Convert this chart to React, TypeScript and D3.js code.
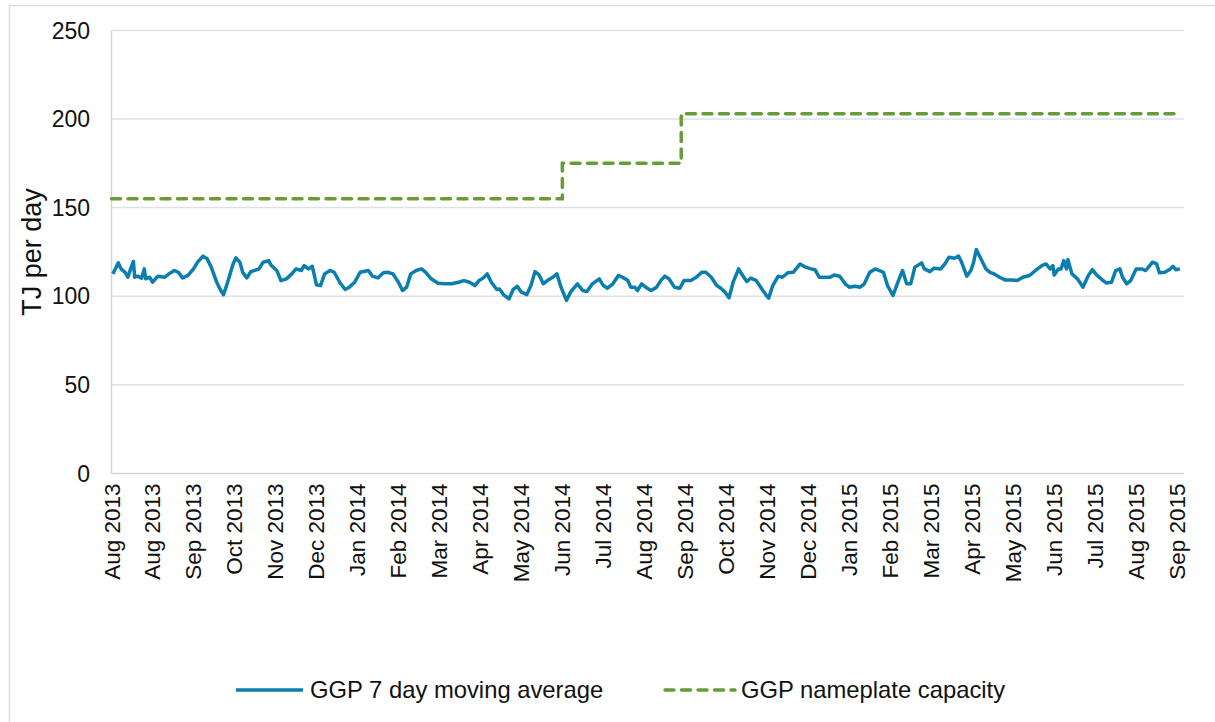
import React from "react";
import * as d3 from "d3";

const W = 1215;
const H = 722;
const START_DATE = new Date(2013, 7, 1);
const END_DAY = 785;
const TICK_STEP_DAYS = 30;
const TICK_COUNT = 27;
const Y_TICKS = [0, 50, 100, 150, 200, 250];
const Y_TITLE = "TJ per day";
const SERIES_NAMES = ["GGP 7 day moving average", "GGP nameplate capacity"];

// 7 day moving average: days since 1 Aug 2013, TJ/day
const avgDays = [
  1, 5, 7, 10, 12, 14, 16, 17, 19, 22, 24, 25, 28, 30, 34, 39, 42, 46, 49, 52, 56, 60, 63, 67, 70, 73, 77, 80, 82, 85,
  89, 91, 94, 96, 99, 102, 106, 108, 111, 113, 115, 117, 121, 124, 128, 132, 135, 139, 141, 144, 147, 150, 153, 156,
  160, 163, 167, 171, 174, 178, 182, 188, 191, 195, 199, 202, 206, 210, 213, 216, 219, 223, 227, 230, 234, 239, 244,
  249, 254, 258, 262, 266, 269, 272, 275, 278, 282, 284, 287, 291, 294, 297, 300, 304, 307, 310, 313, 316, 319, 323,
  326, 329, 333, 336, 341, 345, 348, 352, 357, 360, 363, 367, 371, 374, 378, 380, 383, 385, 388, 391, 395, 399, 402,
  405, 408, 412, 416, 419, 424, 428, 432, 435, 439, 443, 446, 449, 452, 455, 459, 462, 465, 468, 472, 476, 479, 481,
  484, 488, 491, 495, 499, 504, 508, 512, 515, 518, 522, 526, 529, 533, 537, 540, 544, 548, 551, 555, 559, 562, 565,
  568, 572, 576, 579, 582, 585, 588, 593, 595, 599, 602, 607, 610, 613, 617, 620, 622, 626, 629, 631, 633, 637, 640,
  643, 646, 650, 654, 659, 663, 667, 672, 677, 681, 684, 687, 689, 690, 693, 695, 697, 699, 700, 703, 707, 711, 715,
  718, 721, 725, 728, 732, 735, 738, 740, 743, 746, 750, 754, 757, 762, 765, 767, 771, 775, 777, 779, 782,
];
const avgValues = [
  112.6, 118.8, 115.4, 113.5, 110.7, 115.4, 119.6, 110.7, 111.3, 110.2, 115.4, 109.8, 110.7, 107.9, 111.3, 110.7,
  112.6, 114.5, 113.5, 110.3, 111.7, 115.4, 119.2, 122.6, 121.1, 116.4, 107.9, 103.2, 100.8, 107.9, 118.2, 121.6,
  119.2, 113.5, 110.3, 113.9, 114.9, 115.4, 119.2, 119.6, 120.1, 117.3, 114.5, 108.8, 109.8, 112.6, 115.4, 114.5,
  117.3, 115.4, 116.9, 106.4, 106.0, 112.6, 114.5, 113.5, 107.9, 103.8, 105.1, 107.9, 113.5, 114.5, 111.3, 110.3,
  113.2, 113.5, 112.6, 107.9, 103.2, 105.1, 112.6, 114.5, 115.4, 113.5, 109.8, 107.3, 107.0, 107.0, 107.9, 108.8,
  107.9, 106.0, 108.8, 110.2, 112.6, 107.9, 103.8, 104.1, 100.8, 98.5, 103.8, 105.6, 102.3, 100.9, 106.0, 113.9,
  112.0, 107.0, 108.8, 110.7, 112.6, 105.1, 97.6, 102.3, 107.0, 103.2, 102.6, 107.0, 109.8, 106.0, 104.5, 107.0,
  111.7, 110.7, 108.8, 105.1, 105.1, 103.2, 107.0, 105.1, 103.2, 105.1, 108.8, 111.3, 109.8, 105.1, 104.5, 108.8,
  108.8, 110.7, 113.5, 113.5, 110.7, 106.0, 104.5, 102.3, 99.1, 107.9, 115.4, 111.7, 108.3, 110.2, 108.8, 104.1,
  100.8, 98.9, 106.0, 111.3, 110.7, 113.2, 113.5, 118.2, 116.4, 115.4, 114.9, 110.7, 110.7, 110.7, 112.0, 111.3,
  107.0, 105.1, 105.6, 105.1, 107.0, 113.5, 115.4, 114.5, 113.5, 106.0, 100.4, 108.8, 114.5, 107.0, 107.0, 116.4,
  118.8, 115.4, 113.9, 115.8, 115.4, 118.2, 122.0, 121.4, 122.6, 119.6, 111.3, 114.5, 119.2, 126.3, 120.1, 115.4,
  113.5, 112.6, 110.7, 109.2, 109.2, 108.8, 110.7, 111.7, 115.0, 117.3, 118.2, 115.4, 117.3, 112.0, 115.4, 115.4,
  120.1, 115.4, 120.7, 112.6, 109.8, 105.1, 111.7, 115.0, 112.0, 109.4, 107.5, 107.9, 114.5, 115.4, 110.7, 107.0,
  108.8, 115.4, 115.4, 114.5, 119.2, 118.2, 113.2, 113.5, 115.4, 116.9, 114.9, 115.4,
];

// Nameplate capacity steps
const capacityDays = [0, 330, 417, 782];
const capacityValues = [155, 175, 203, 203];

const FONT = "Arial, 'Liberation Sans', sans-serif";

export default function App() {
  const left = 111.5;
  const right = 1184;
  const top = 30.4;
  const bottom = 473.4;

  const dayToDate = (d: number) => d3.timeDay.offset(START_DATE, d);
  const x = d3.scaleTime().domain([START_DATE, dayToDate(END_DAY)]).range([left, right]);
  const y = d3.scaleLinear().domain([0, 250]).range([bottom, top]);

  const avgData = avgDays.map((d, i) => ({ date: dayToDate(d), v: avgValues[i] }));
  const capData = capacityDays.map((d, i) => ({ date: dayToDate(d), v: capacityValues[i] }));

  const avgLine = d3
    .line<{ date: Date; v: number }>()
    .x((d) => x(d.date))
    .y((d) => y(d.v))
    .curve(d3.curveLinear);
  const capLine = d3
    .line<{ date: Date; v: number }>()
    .x((d) => x(d.date))
    .y((d) => y(d.v))
    .curve(d3.curveStepAfter);

  const tickDates = d3.range(TICK_COUNT).map((i) => dayToDate(i * TICK_STEP_DAYS));
  const fmt = d3.timeFormat("%b %Y");

  const blue = "#0a7eae";
  const green = "#679c39";
  const grid = "#dde2e6";

  return (
    <svg width={W} height={H} style={{ position: "absolute", left: 0, top: 0, background: "#fff" }}>
      <rect x={9.5} y={5.5} width={1210} height={720} fill="#fff" stroke="#d9dde0" strokeWidth={1.5} />
      {Y_TICKS.map((t) => (
        <g key={t}>
          {t > 0 && <line x1={left} x2={right} y1={y(t)} y2={y(t)} stroke={grid} strokeWidth={1.5} />}
          <text
            x={90}
            y={y(t)}
            dy="0.36em"
            textAnchor="end"
            fontFamily={FONT}
            fontSize={23}
            fill="#111"
          >
            {t}
          </text>
        </g>
      ))}
      <line x1={left} x2={left} y1={top} y2={bottom} stroke="#cfd6da" strokeWidth={1.5} />
      <line x1={left} x2={right} y1={bottom} y2={bottom} stroke="#cfd6da" strokeWidth={1.5} />
      <text
        transform={`translate(41,${(top + bottom) / 2}) rotate(-90)`}
        textAnchor="middle"
        fontFamily={FONT}
        fontSize={27}
        fill="#111"
      >
        {Y_TITLE}
      </text>
      {tickDates.map((d, i) => (
        <text
          key={i}
          transform={`translate(${x(d) + 8},${bottom + 10}) rotate(-90)`}
          textAnchor="end"
          fontFamily={FONT}
          fontSize={22.5}
          fill="#111"
        >
          {fmt(d)}
        </text>
      ))}
      <path d={capLine(capData) || ""} fill="none" stroke={green} strokeWidth={3.5} strokeDasharray="9 7.5" strokeLinecap="round" />
      <path d={avgLine(avgData) || ""} fill="none" stroke={blue} strokeWidth={3.5} strokeLinejoin="round" />
      <g>
        <line x1={236} x2={303} y1={690} y2={690} stroke={blue} strokeWidth={3.5} />
        <text x={310} y={698} fontFamily={FONT} fontSize={23.8} fill="#111">
          {SERIES_NAMES[0]}
        </text>
        <line x1={665} x2={735} y1={690} y2={690} stroke={green} strokeWidth={3.5} strokeDasharray="9 7.5" strokeLinecap="round" />
        <text x={741} y={698} fontFamily={FONT} fontSize={23.8} fill="#111">
          {SERIES_NAMES[1]}
        </text>
      </g>
    </svg>
  );
}
